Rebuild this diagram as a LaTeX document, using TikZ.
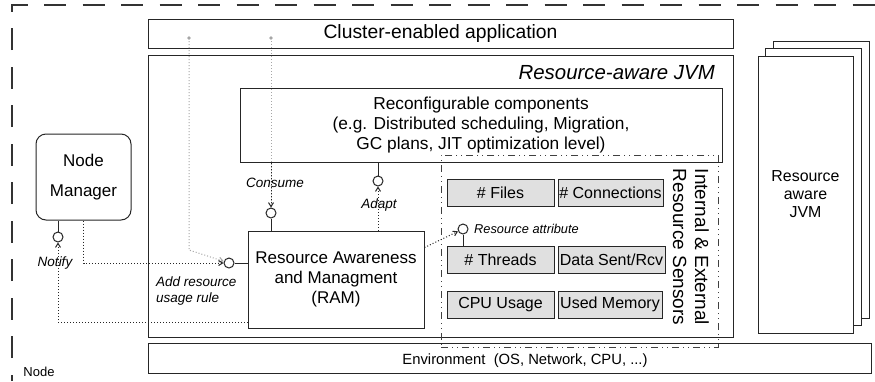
\documentclass[tikz,border=0pt]{standalone}
\usepackage{fontspec}
\setmainfont{Liberation Sans}
\usetikzlibrary{arrows.meta}
\newcommand{\fs}[2]{\fontsize{#1}{#2}\selectfont}
\begin{document}
\begin{tikzpicture}[x=1pt,y=-1pt,
  ln/.style={draw=black!85,line width=1pt},
  box/.style={ln,rectangle,inner sep=0pt,align=center,fill=white},
  sens/.style={box,fill=black!12,minimum height=27pt,font=\fs{16}{19}},
  lolly/.style={ln,circle,fill=white,minimum size=10pt,inner sep=0pt},
  dep/.style={draw=black!85,line width=1pt,dotted,-{Straight Barb[length=4pt,width=5pt]}},
  graydep/.style={draw=black!35,line width=1pt,dotted},
  graytip/.style={-{Straight Barb[length=4pt,width=5pt]}},
  lbl/.style={font=\fs{13.5}{16}\itshape,inner sep=0pt},
  ]
\useasboundingbox (0,0) rectangle (875,381);
% outer node frame
\draw[draw=black!80,line width=1.2pt,dash pattern=on 22pt off 16.5pt,dash phase=15.5pt] (12,381) -- (12,5) -- (875,5);
\node[inner sep=0pt,font=\fs{13}{15}] (nodelbl) at (39,372) {Node};

% main boxes
\node[box,minimum width=585pt,minimum height=29pt,font=\fs{19.3}{22}] (cluster) at (440.5,33.5) {Cluster-enabled application};
\node[box,minimum width=585pt,minimum height=282pt] (jvm) at (440.5,196) {};
\node[anchor=east,inner sep=0pt,font=\fs{20.4}{24}\itshape] (jvmlbl) at (715,73) {Resource-aware JVM};
\node[box,minimum width=723pt,minimum height=30pt] (env) at (509.5,358) {};
\node[inner sep=0pt,font=\fs{14.8}{17}] (envtxt) at (525,361) {Environment\ \ (OS, Network, CPU, ...)};
\node[box,minimum width=482pt,minimum height=74pt,font=\fs{17.3}{20}] (reconf) at (481,125) {Reconfigurable components\\(e.g. Distributed scheduling, Migration,\\GC plans, JIT optimization level)};

% sensors region
\node[draw=black!75,line width=1pt,dash pattern=on 7pt off 4pt on 1pt off 4pt on 1pt off 4pt,minimum width=277pt,minimum height=192pt,inner sep=0pt] (sensors) at (579.5,251) {};
\node[rotate=-90,align=center,font=\fs{19}{22},inner sep=0pt] (senslbl) at (691,247) {Internal \& External\\Resource Sensors};
\node[sens,minimum width=107pt] (files) at (500.5,192.5) {\# Files};
\node[sens,minimum width=105pt] (conns) at (610.5,192.5) {\# Connections};
\node[sens,minimum width=107pt] (threads) at (500.5,259.5) {\# Threads};
\node[sens,minimum width=107pt] (data) at (611.5,259.5) {Data Sent/Rcv};
\node[sens,minimum width=107pt] (cpu) at (500.5,304.5) {CPU Usage};
\node[sens,minimum width=104pt] (mem) at (610,304.5) {Used Memory};

% stacked JVMs
\node[box,minimum width=96pt,minimum height=277pt] (jvmc) at (821,179.5) {};
\node[box,minimum width=96pt,minimum height=277pt] (jvmb) at (813.5,187) {};
\node[box,minimum width=95pt,minimum height=277pt,font=\fs{15.9}{18}] (jvma) at (805.5,194.5) {Resource\\aware\\JVM};

% node manager and RAM
\node[box,rounded corners=10pt,minimum width=95pt,minimum height=86pt,font=\fs{17}{30}] (nodemgr) at (83.5,177) {Node\\Manager};
\node[box,minimum width=176pt,minimum height=97pt,font=\fs{17}{20}] (ram) at (336,279.5) {Resource Awareness\\and Managment\\(RAM)};

% lollipops
\node[lolly] (cons) at (271,213) {};
\node[lolly] (adapt) at (378,181) {};
\node[lolly] (addrule) at (229,263) {};
\node[lolly] (notify) at (58,237) {};
\node[lolly] (resattr) at (463,229) {};

% labels
\node[lbl] (conslbl) at (275,183) {Consume};
\node[lbl] (adaptlbl) at (379,205) {Adapt};
\node[lbl] (notifylbl) at (55,263) {Notify};
\node[lbl,anchor=west,align=left] (addlbl) at (156,291) {Add resource\\usage rule};
\node[lbl,anchor=west,font=\fs{12.8}{15}\itshape] (attrlbl) at (474,229) {Resource attribute};

% gray requirement lines from application
\coordinate (g1) at (189,38);
\coordinate (g2) at (271,38);
\fill[black!35] (g1) circle (1.8pt);
\fill[black!35] (g2) circle (1.8pt);
\draw[graydep,graytip] (g1) -- ++(0,212) -- (addrule);
\draw[graydep] (g2) -- (cons);

% solid lollipop stems
\draw[ln] (cons) -- (cons |- ram.north);
\draw[ln] (adapt) -- (adapt |- reconf.south);
\draw[ln] (addrule) -- (addrule -| ram.west);
\draw[ln] (notify) -- (notify |- nodemgr.south);
\draw[ln] (resattr) -- (resattr |- threads.north);

% dependencies
\draw[dep] (cons |- reconf.south) -- (cons);
\draw[dep] (adapt |- ram.north) -- (adapt);
\draw[dep] (nodemgr.south) |- (addrule);
\draw[dep] ([yshift=6pt]ram.south west) -| (notify);
\draw[dep] ([yshift=-17pt]ram.north east) -- (resattr);
\end{tikzpicture}
\end{document}
